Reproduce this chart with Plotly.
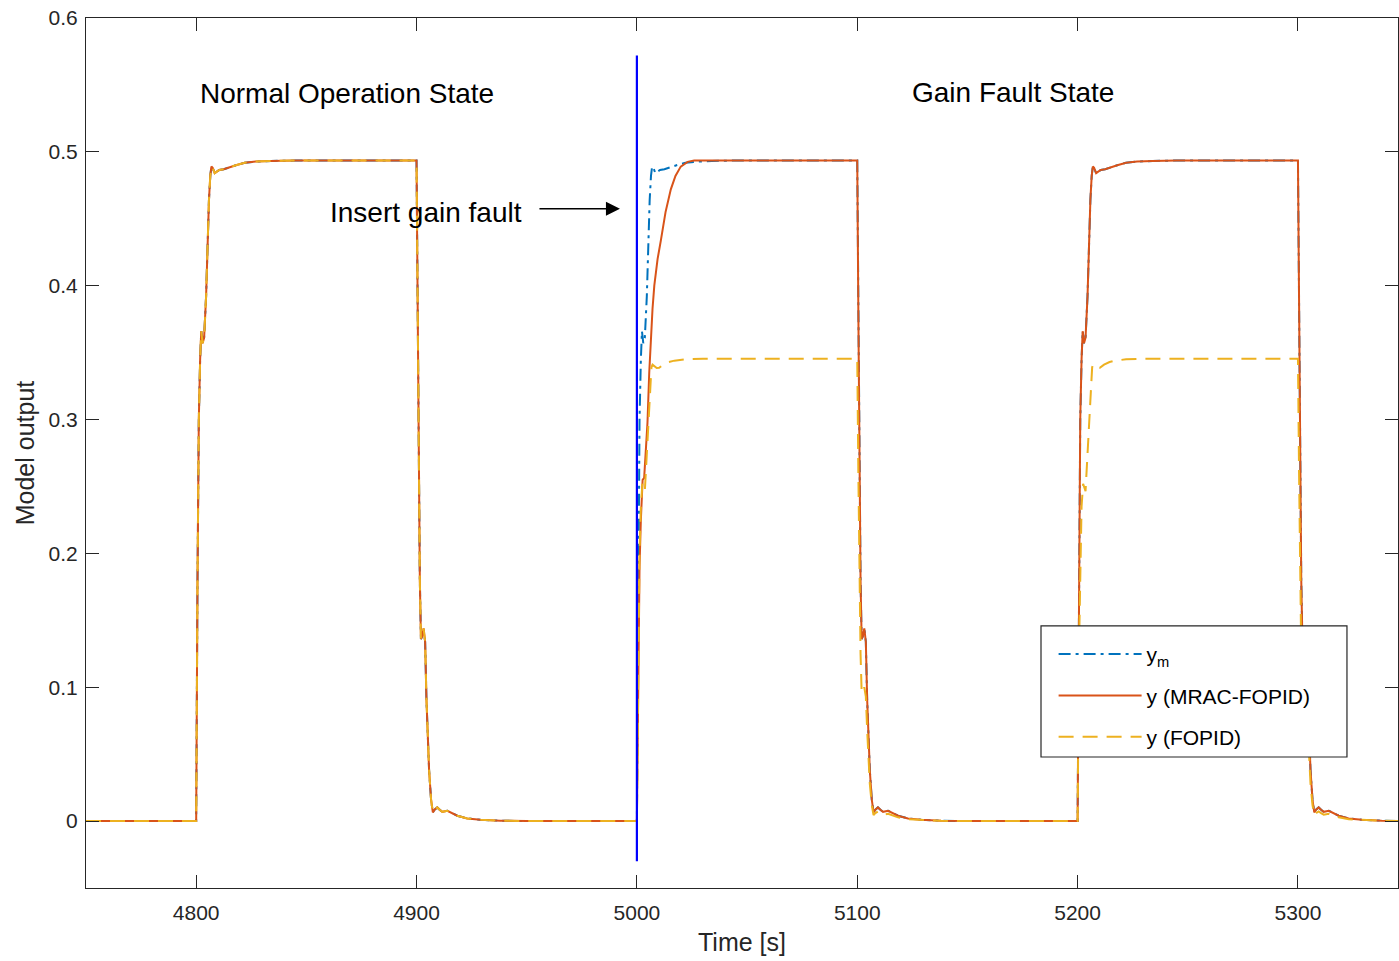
import plotly.graph_objects as go

# ---------------- data ----------------
# y_m (reference model output)
ym_t = [4750,
        4800, 4800.6, 4801.2, 4801.8, 4802.3, 4802.9, 4803.6, 4804.5, 4805.3, 4805.8, 4806.4, 4806.9, 4807.5, 4808.4, 4809.2, 4810.5, 4812.5, 4815, 4818, 4822, 4827, 4834, 4845,
        4900, 4900.5, 4901, 4901.5, 4902, 4902.5, 4903.2, 4903.9, 4904.5, 4905.2, 4905.7, 4906.6, 4907.4, 4908.2, 4909.4, 4910.5, 4911.7, 4914, 4918.5, 4923, 4929, 4938, 4950,
        5000, 5000.6, 5001.2, 5001.8, 5002.3, 5002.9, 5003.6, 5004.5, 5005.3, 5005.8, 5006.4, 5006.9, 5007.5, 5008.4, 5009.2, 5010.5, 5012.5, 5015, 5018, 5022, 5027, 5034, 5045,
        5100, 5100.5, 5101, 5101.5, 5102, 5102.5, 5103.2, 5103.9, 5104.5, 5105.2, 5105.7, 5106.6, 5107.4, 5108.2, 5109.4, 5110.5, 5111.7, 5114, 5118.5, 5123, 5129, 5138, 5150,
        5200, 5200.6, 5201.2, 5201.8, 5202.3, 5202.9, 5203.6, 5204.5, 5205.3, 5205.8, 5206.4, 5206.9, 5207.5, 5208.4, 5209.2, 5210.5, 5212.5, 5215, 5218, 5222, 5227, 5234, 5245,
        5300, 5300.5, 5301, 5301.5, 5302, 5302.5, 5303.2, 5303.9, 5304.5, 5305.2, 5305.7, 5306.6, 5307.4, 5308.2, 5309.4, 5310.5, 5311.7, 5314, 5318.5, 5323, 5329, 5338, 5350]
ym_y = [0,
        0, 0.18, 0.30, 0.345, 0.366, 0.357, 0.361, 0.392, 0.44, 0.464, 0.482, 0.489, 0.488, 0.484, 0.485, 0.4865, 0.487, 0.4885, 0.490, 0.4918, 0.4927, 0.4932, 0.4935,
        0.4935, 0.38, 0.26, 0.18, 0.136, 0.138, 0.144, 0.134, 0.091, 0.055, 0.038, 0.016, 0.0065, 0.0085, 0.0102, 0.0085, 0.0069, 0.0077, 0.004, 0.002, 0.001, 0.0003, 0,
        0, 0.18, 0.30, 0.345, 0.366, 0.357, 0.361, 0.392, 0.44, 0.464, 0.482, 0.489, 0.488, 0.484, 0.485, 0.4865, 0.487, 0.4885, 0.490, 0.4918, 0.4927, 0.4932, 0.4935,
        0.4935, 0.38, 0.26, 0.18, 0.136, 0.138, 0.144, 0.134, 0.091, 0.055, 0.038, 0.016, 0.0065, 0.0085, 0.0102, 0.0085, 0.0069, 0.0077, 0.004, 0.002, 0.001, 0.0003, 0,
        0, 0.18, 0.30, 0.345, 0.366, 0.357, 0.361, 0.392, 0.44, 0.464, 0.482, 0.489, 0.488, 0.484, 0.485, 0.4865, 0.487, 0.4885, 0.490, 0.4918, 0.4927, 0.4932, 0.4935,
        0.4935, 0.38, 0.26, 0.18, 0.136, 0.138, 0.144, 0.134, 0.091, 0.055, 0.038, 0.016, 0.0065, 0.0085, 0.0102, 0.0085, 0.0069, 0.0077, 0.004, 0.002, 0.001, 0.0003, 0]

# y (MRAC-FOPID)
mrac_t = [4750,
          4800, 4800.6, 4801.2, 4801.8, 4802.3, 4802.9, 4803.6, 4804.5, 4805.3, 4805.8, 4806.4, 4806.9, 4807.5, 4808.4, 4809.2, 4810.5, 4812.5, 4815, 4818, 4822, 4827, 4834, 4845,
          4900, 4900.5, 4901, 4901.5, 4902, 4902.5, 4903.2, 4903.9, 4904.5, 4905.2, 4905.7, 4906.6, 4907.4, 4908.2, 4909.4, 4910.5, 4911.7, 4914, 4918.5, 4923, 4929, 4938, 4950,
          5000, 5000.6, 5001.2, 5001.8, 5002.6, 5003.3, 5004.0, 5004.8, 5005.6, 5006.4, 5007.1, 5007.9, 5009.4, 5010.9, 5013.0, 5015.4, 5017.5, 5019.9, 5023, 5026,
          5100, 5100.5, 5101, 5101.5, 5102, 5102.5, 5103.2, 5103.9, 5104.5, 5105.2, 5105.7, 5106.6, 5107.4, 5108.2, 5109.4, 5110.5, 5111.7, 5114, 5118.5, 5123, 5129, 5138, 5150,
          5200, 5200.6, 5201.2, 5201.8, 5202.3, 5202.9, 5203.6, 5204.5, 5205.3, 5205.8, 5206.4, 5206.9, 5207.5, 5208.4, 5209.2, 5210.5, 5212.5, 5215, 5218, 5222, 5227, 5234, 5245,
          5300, 5300.5, 5301, 5301.5, 5302, 5302.5, 5303.2, 5303.9, 5304.5, 5305.2, 5305.7, 5306.6, 5307.4, 5308.2, 5309.4, 5310.5, 5311.7, 5314, 5318.5, 5323, 5329, 5338, 5350]
mrac_y = [0,
          0, 0.18, 0.30, 0.345, 0.366, 0.357, 0.361, 0.392, 0.44, 0.464, 0.482, 0.489, 0.488, 0.484, 0.485, 0.4865, 0.487, 0.4885, 0.490, 0.4918, 0.4927, 0.4932, 0.4935,
          0.4935, 0.38, 0.26, 0.18, 0.136, 0.138, 0.144, 0.134, 0.091, 0.055, 0.038, 0.016, 0.0065, 0.0085, 0.0102, 0.0085, 0.0069, 0.0077, 0.004, 0.002, 0.001, 0.0003, 0,
          0, 0.11, 0.19, 0.225, 0.255, 0.2565, 0.275, 0.2975, 0.335, 0.362, 0.383, 0.40, 0.42, 0.434, 0.455, 0.472, 0.482, 0.489, 0.4925, 0.4935,
          0.4935, 0.38, 0.26, 0.18, 0.136, 0.138, 0.144, 0.134, 0.091, 0.055, 0.038, 0.016, 0.0065, 0.0085, 0.0102, 0.0085, 0.0069, 0.0077, 0.004, 0.002, 0.001, 0.0003, 0,
          0, 0.18, 0.30, 0.345, 0.366, 0.357, 0.361, 0.392, 0.44, 0.464, 0.482, 0.489, 0.488, 0.484, 0.485, 0.4865, 0.487, 0.4885, 0.490, 0.4918, 0.4927, 0.4932, 0.4935,
          0.4935, 0.38, 0.26, 0.18, 0.136, 0.138, 0.144, 0.134, 0.091, 0.055, 0.038, 0.016, 0.0065, 0.0085, 0.0102, 0.0085, 0.0069, 0.0077, 0.004, 0.002, 0.001, 0.0003, 0]

# y (FOPID)
fopid_t = [4750,
           4800, 4800.6, 4801.2, 4801.8, 4802.3, 4802.9, 4803.6, 4804.5, 4805.3, 4805.8, 4806.4, 4806.9, 4807.5, 4808.4, 4809.2, 4810.5, 4812.5, 4815, 4818, 4822, 4827, 4834, 4845,
           4900, 4900.5, 4901, 4901.5, 4902, 4902.5, 4903.2, 4903.9, 4904.5, 4905.2, 4905.7, 4906.6, 4907.4, 4908.2, 4909.4, 4910.5, 4911.7, 4914, 4918.5, 4923, 4929, 4938, 4950,
           5000, 5000.6, 5001.2, 5001.8, 5002.5, 5003.0, 5003.6, 5004.2, 5004.8, 5005.4, 5006.0, 5006.6, 5007.1, 5007.8, 5009.0, 5010.1, 5012, 5014.5, 5017, 5022, 5030, 5040,
           5100, 5100.5, 5101, 5101.5, 5102, 5102.5, 5103.2, 5103.9, 5104.5, 5105.2, 5105.7, 5106.6, 5107.4, 5108.2, 5109.4, 5110.5, 5111.7, 5114, 5118.5, 5123, 5129, 5138, 5150,
           5200, 5200.6, 5201.2, 5201.8, 5202.5, 5203.0, 5203.6, 5204.2, 5204.8, 5205.4, 5206.0, 5206.6, 5207.1, 5207.8, 5209.0, 5210.1, 5212, 5214.5, 5217, 5222, 5230, 5240,
           5300, 5300.5, 5301, 5301.5, 5302, 5302.5, 5303.2, 5303.9, 5304.5, 5305.2, 5305.7, 5306.6, 5307.4, 5308.2, 5309.4, 5310.5, 5311.7, 5314, 5318.5, 5323, 5329, 5338, 5350]
fopid_y = [0,
           0, 0.18, 0.30, 0.345, 0.366, 0.357, 0.361, 0.392, 0.44, 0.464, 0.482, 0.489, 0.488, 0.484, 0.485, 0.4865, 0.487, 0.4885, 0.490, 0.4918, 0.4927, 0.4932, 0.4935,
           0.4935, 0.38, 0.26, 0.18, 0.136, 0.138, 0.144, 0.134, 0.091, 0.055, 0.038, 0.016, 0.0065, 0.0085, 0.0102, 0.0085, 0.0069, 0.0077, 0.004, 0.002, 0.001, 0.0003, 0,
           0, 0.125, 0.20, 0.235, 0.252, 0.249, 0.2465, 0.265, 0.285, 0.31, 0.33, 0.339, 0.341, 0.340, 0.3385, 0.3386, 0.341, 0.343, 0.344, 0.345, 0.3455, 0.3455,
           0.3455, 0.26, 0.18, 0.125, 0.096, 0.096, 0.100, 0.093, 0.068, 0.043, 0.028, 0.012, 0.0045, 0.006, 0.0072, 0.006, 0.0048, 0.0054, 0.0028, 0.0014, 0.0007, 0.0002, 0,
           0, 0.125, 0.20, 0.235, 0.252, 0.249, 0.2465, 0.265, 0.285, 0.31, 0.33, 0.339, 0.341, 0.340, 0.3385, 0.3386, 0.341, 0.343, 0.344, 0.345, 0.3455, 0.3455,
           0.3455, 0.26, 0.18, 0.125, 0.096, 0.096, 0.100, 0.093, 0.068, 0.043, 0.028, 0.012, 0.0045, 0.006, 0.0072, 0.006, 0.0048, 0.0054, 0.0028, 0.0014, 0.0007, 0.0002, 0]

# fault insertion marker
fault_t = [5000, 5000]
fault_y = [-0.03, 0.572]

x_ticks = [4800, 4900, 5000, 5100, 5200, 5300]
y_ticks = [0, 0.1, 0.2, 0.3, 0.4, 0.5, 0.6]

# ---------------- figure ----------------
FONT = "Liberation Sans, Arial, Helvetica, sans-serif"
AX = "#262626"

fig = go.Figure()
fig.add_trace(go.Scatter(x=ym_t, y=ym_y, mode="lines", name="y<sub>m</sub>",
                         legendgroup="a",
                         line=dict(color="#0072BD", width=2, dash="12px,5px,3px,5px")))
fig.add_trace(go.Scatter(x=mrac_t, y=mrac_y, mode="lines", name="y (MRAC-FOPID)",
                         legendgroup="b",
                         line=dict(color="#D95319", width=2)))
fig.add_trace(go.Scatter(x=fopid_t, y=fopid_y, mode="lines", name="y (FOPID)",
                         legendgroup="c",
                         line=dict(color="#EDB120", width=2, dash="15px,9px")))
fig.add_trace(go.Scatter(x=fault_t, y=fault_y, mode="lines", showlegend=False,
                         line=dict(color="#0000FF", width=2.2)))

axis_common = dict(showline=True, linecolor=AX, linewidth=1, mirror="ticks",
                   ticks="inside", ticklen=13, tickwidth=1, tickcolor=AX,
                   showgrid=False, zeroline=False,
                   tickfont=dict(family=FONT, size=21, color=AX))

fig.update_xaxes(range=[4750, 5345.4], tickvals=x_ticks,
                 title=dict(text="Time [s]", font=dict(family=FONT, size=25, color=AX), standoff=10),
                 ticklabelstandoff=6, **axis_common)
fig.update_yaxes(range=[-0.05, 0.6], tickvals=y_ticks,
                 title=dict(text="Model output", font=dict(family=FONT, size=25, color=AX), standoff=6),
                 ticklabelstandoff=3, **axis_common)

# legend box
fig.add_shape(type="rect", xref="paper", yref="paper",
              x0=0.7279, x1=0.9611, y0=0.1506, y1=0.3012,
              fillcolor="white", line=dict(color=AX, width=1.2), layer="above")

fig.update_layout(
    width=1399, height=961,
    margin=dict(l=86, r=1, t=18, b=73),
    paper_bgcolor="white", plot_bgcolor="white",
    font=dict(family=FONT, color="black"),
    showlegend=True,
    legend=dict(x=0.7375, y=0.292, xanchor="left", yanchor="top",
                bgcolor="rgba(0,0,0,0)", borderwidth=0,
                font=dict(family=FONT, size=21, color="black"),
                itemwidth=83, traceorder="grouped", tracegroupgap=11),
    annotations=[
        dict(x=4868.4, y=0.5433, xref="x", yref="y", text="Normal Operation State",
             showarrow=False, font=dict(family=FONT, size=28, color="black")),
        dict(x=5170.8, y=0.544, xref="x", yref="y", text="Gain Fault State",
             showarrow=False, font=dict(family=FONT, size=28, color="black")),
        dict(x=4904.5, y=0.455, xref="x", yref="y", text="Insert gain fault",
             showarrow=False, font=dict(family=FONT, size=28, color="black")),
        dict(x=4992.3, y=0.4575, xref="x", yref="y", ax=4955.1, ay=0.4575,
             axref="x", ayref="y", text="", showarrow=True,
             arrowhead=2, arrowsize=2.0, arrowwidth=1.4, arrowcolor="black",
             standoff=0, startstandoff=0),
    ],
)

post = ("document.body.style.margin='0';document.body.style.padding='0';"
        "document.documentElement.style.overflow='hidden';"
        "document.body.style.overflow='hidden';")
fig.write_html("out.html", post_script=post, config={"displayModeBar": False})
